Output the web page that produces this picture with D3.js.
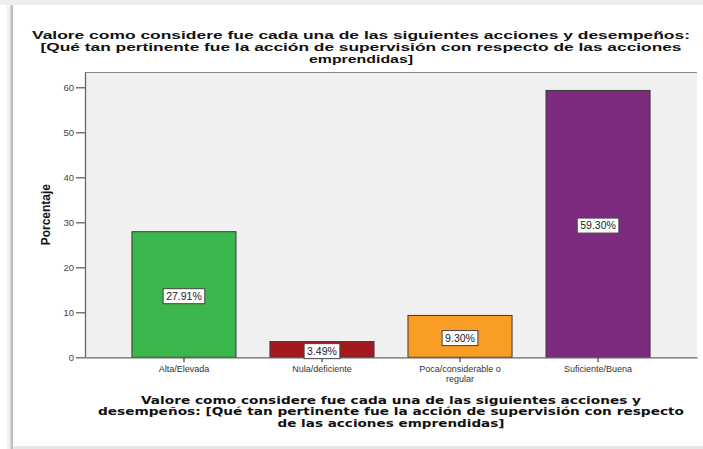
<!DOCTYPE html>
<html>
<head>
<meta charset="utf-8">
<script src="https://cdn.jsdelivr.net/npm/d3@7"></script>
<style>
  html, body { margin: 0; padding: 0; background: #ffffff; }
  svg { display: block; }
</style>
</head>
<body>
<svg id="chart" width="703" height="449"></svg>
<script>
// Categories and their percentages
const categories = ["Alta/Elevada", "Nula/deficiente", "Poca/considerable o regular", "Suficiente/Buena"];
const categoryLines = [["Alta/Elevada"], ["Nula/deficiente"], ["Poca/considerable o", "regular"], ["Suficiente/Buena"]];
const percentages = [27.91, 3.49, 9.30, 59.30];
const barColors = ["#3bb64c", "#a31a1e", "#f99d25", "#7d2b7e"];
const yTicks = [0, 10, 20, 30, 40, 50, 60];

const titleLines = [
  "Valore como considere fue cada una de las siguientes acciones y desempeños:",
  "[Qué tan pertinente fue la acción de supervisión con respecto de las acciones",
  "emprendidas]"
];
const xTitleLines = [
  "Valore como considere fue cada una de las siguientes acciones y",
  "desempeños: [Qué tan pertinente fue la acción de supervisión con respecto",
  "de las acciones emprendidas]"
];
const yTitle = "Porcentaje";

const svg = d3.select("#chart");
const W = 703, H = 449;
const plot = { left: 85, right: 697, top: 72, bottom: 357.3 };

// Card frame with soft shadow edges
svg.append("rect").attr("x", 0).attr("y", 0).attr("width", W).attr("height", H).attr("fill", "#ffffff");
svg.append("rect").attr("x", 0).attr("y", 0).attr("width", W).attr("height", 5).attr("fill", "#eeeeee");
svg.append("rect").attr("x", 7).attr("y", 5).attr("width", 4).attr("height", H).attr("fill", "#f0f0f0");
svg.append("rect").attr("x", 10.5).attr("y", 5).attr("width", 2.5).attr("height", H).attr("fill", "#bfbfbf");
svg.append("rect").attr("x", 13).attr("y", 446).attr("width", W).attr("height", 3).attr("fill", "#e6e6e6");

// Scales
const x = d3.scaleBand()
  .domain(categories)
  .range([plot.left, plot.right])
  .paddingInner(0.246)
  .paddingOuter(0.34);
const y = d3.scaleLinear().domain([0, 63.4]).range([plot.bottom, plot.top]);

// Plot background
svg.append("rect")
  .attr("x", plot.left).attr("y", plot.top)
  .attr("width", plot.right - plot.left).attr("height", plot.bottom - plot.top)
  .attr("fill", "#f0f0f0");
svg.append("line")
  .attr("x1", plot.left).attr("x2", plot.right)
  .attr("y1", plot.top + 0.5).attr("y2", plot.top + 0.5)
  .attr("stroke", "#8a8a8a").attr("stroke-width", 1.2);

// Bars
svg.append("g").selectAll("rect")
  .data(percentages)
  .join("rect")
  .attr("x", (d, i) => x(categories[i]))
  .attr("y", d => y(d))
  .attr("width", x.bandwidth())
  .attr("height", d => y(0) - y(d))
  .attr("fill", (d, i) => barColors[i])
  .attr("stroke", "#3a3a3a")
  .attr("stroke-width", 1);

// Y axis
const yAxis = svg.append("g")
  .attr("transform", `translate(${plot.left},0)`)
  .call(d3.axisLeft(y).tickValues(yTicks).tickSize(9).tickSizeOuter(0).tickPadding(2));
yAxis.select(".domain").attr("stroke", "#666666").attr("stroke-width", 1.3);
yAxis.selectAll(".tick line").attr("stroke", "#555555").attr("stroke-width", 1.2);
yAxis.selectAll(".tick text")
  .attr("font-family", "Liberation Sans, Arial, sans-serif")
  .attr("font-size", 9.5).attr("fill", "#444444");

// X axis
const xAxis = svg.append("g")
  .attr("transform", `translate(0,${plot.bottom})`)
  .call(d3.axisBottom(x).tickSize(5).tickSizeOuter(0).tickFormat(""));
xAxis.select(".domain").attr("stroke", "#666666").attr("stroke-width", 1.3);
xAxis.selectAll(".tick line").attr("stroke", "#444444").attr("stroke-width", 1.2);
xAxis.selectAll(".tick").each(function(d, i) {
  const t = d3.select(this).append("text")
    .attr("text-anchor", "middle")
    .attr("font-family", "Liberation Sans, Arial, sans-serif")
    .attr("font-size", 9).attr("fill", "#333333");
  categoryLines[i].forEach((line, j) => {
    t.append("tspan").attr("x", 0).attr("y", 15 + j * 10).text(line);
  });
});

// Value labels in boxed tags
const labels = svg.append("g").selectAll("g")
  .data(percentages)
  .join("g")
  .attr("transform", (d, i) => `translate(${x(categories[i]) + x.bandwidth() / 2},${(y(d) + y(0)) / 2 + 1.7})`);
labels.each(function(d) {
  const g = d3.select(this);
  const txt = g.append("text")
    .attr("text-anchor", "middle")
    .attr("dy", "0.36em")
    .attr("font-family", "Liberation Sans, Arial, sans-serif")
    .attr("font-size", 10.5).attr("fill", "#222222")
    .text(d.toFixed(2) + "%");
  const w = txt.node().getComputedTextLength() + 6;
  g.insert("rect", "text")
    .attr("x", -w / 2).attr("y", -7.5)
    .attr("width", w).attr("height", 15)
    .attr("fill", "#ffffff").attr("stroke", "#444444").attr("stroke-width", 1);
});

// Stretch a text line to a set width
function fitLine(sel, width) {
  sel.attr("textLength", width).attr("lengthAdjust", "spacingAndGlyphs");
}

// Chart title
const titleWidths = [658, 641, 104];
titleLines.forEach((line, i) => {
  const t = svg.append("text")
    .attr("x", 361).attr("y", 38.5 + i * 12)
    .attr("text-anchor", "middle")
    .attr("font-family", "Liberation Sans, Arial, sans-serif")
    .attr("font-weight", "bold").attr("font-size", 11).attr("fill", "#111111")
    .text(line);
  fitLine(t, titleWidths[i]);
});

// X axis title
const xTitleWidths = [500, 586, 227];
xTitleLines.forEach((line, i) => {
  const t = svg.append("text")
    .attr("x", (plot.left + plot.right) / 2).attr("y", 403.5 + i * 11.8)
    .attr("text-anchor", "middle")
    .attr("font-family", "DejaVu Sans, Verdana, sans-serif")
    .attr("font-weight", "bold").attr("font-size", 11).attr("fill", "#111111")
    .text(line);
  fitLine(t, xTitleWidths[i]);
});

// Y axis title
svg.append("text")
  .attr("transform", `translate(50,${(plot.top + plot.bottom) / 2}) rotate(-90)`)
  .attr("text-anchor", "middle")
  .attr("font-family", "Liberation Sans, Arial, sans-serif")
  .attr("font-weight", "bold").attr("font-size", 12).attr("fill", "#111111")
  .text(yTitle);
</script>
</body>
</html>
